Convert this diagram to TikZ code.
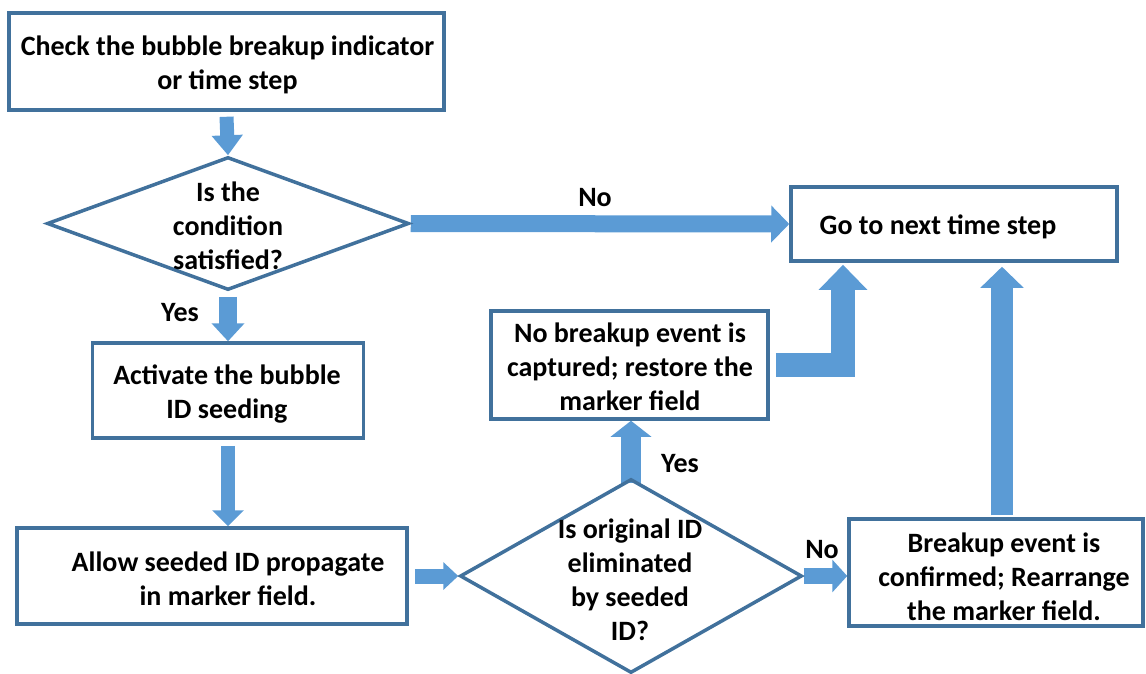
\documentclass[tikz,border=0pt]{standalone}
\usepackage{fontspec}
\setmainfont{Carlito}
\usetikzlibrary{shapes.geometric,arrows.meta,calc,backgrounds}
\definecolor{edgeblue}{HTML}{41719C}
\definecolor{arrowfill}{HTML}{5B9BD5}
\tikzset{
  box/.style={draw=edgeblue, line width=3.5pt, rectangle, inner sep=0pt},
  dia/.style={draw=edgeblue, line width=3.5pt, diamond, inner sep=0pt},
  txt/.style={align=center, font=\fontsize{28}{34}\selectfont\bfseries, inner sep=0pt},
  barrow/.style n args={3}{draw=arrowfill, line width=#1, line join=miter, -{Triangle[width=#2,length=#3]}},
}
\begin{document}
\begin{tikzpicture}[x=1pt,y=-1pt]
\useasboundingbox (0,0) rectangle (1146,673);
% boxes
\node[box, minimum width=435, minimum height=97] (b1) at (226.5,61.5) {};
\node[txt] at (227.5,65) {Check the bubble breakup indicator\\or time step};
\node[dia, minimum width=362, minimum height=133] (d1) at (228,223.5) {};
\node[txt] at (228,226) {Is the\\condition\\satisfied?};
\node[box, minimum width=326, minimum height=74] (go) at (954,224) {};
\node[txt] at (938,227) {Go to next time step};
\node[box, minimum width=271, minimum height=95] (act) at (228,390.5) {};
\node[txt] at (227,394) {Activate the bubble\\ID seeding};
\node[box, minimum width=390, minimum height=96] (allow) at (212,576) {};
\node[txt] at (228,579) {Allow seeded ID propagate\\in marker field.};
\node[dia, minimum width=342, minimum height=194] (d2) at (631,576) {};
\node[txt] at (630,580) {Is original ID\\eliminated\\by seeded\\ID?};
\node[box, minimum width=294, minimum height=107] (br) at (996,572.5) {};
\node[txt] at (1004,577) {Breakup event is\\confirmed; Rearrange\\the marker field.};
\node[box, minimum width=277, minimum height=108] (nb) at (629.5,365) {};
\node[txt] at (630,367) {No breakup event is\\captured; restore the\\marker field};
% labels
\node[txt] (lno1) at (595,198) {No};
\node[txt] (lyes1) at (180,313) {Yes};
\node[txt] (lyes2) at (680,464) {Yes};
\node[txt] (lno2) at (822,550) {No};
\coordinate (brtop) at ($(br.north)+(6,-2)$);
\begin{pgfonlayer}{background}
\draw[barrow={14}{30}{20}] ($(b1.south)+(0,5)$) -- (d1.north);
\draw[barrow={18}{32}{18}] ($(d1.south)+(0,5)$) -- (act.north);
\draw[barrow={14}{31}{16}] ($(act.south)+(0,6)$) -- (act.south |- allow.north);
\draw[barrow={15}{27}{15}] ($(allow.east)+(6,0)$) -- (d2.west);
\draw[barrow={16}{32}{15}] (d2.east) -- (d2.east -| br.west);
\draw[barrow={20}{40}{16}] ($(d2.north)+(0,6)$) -- (d2.north |- nb.south);
\draw[barrow={17}{36}{18}] (d1.east) -- (go.west);
\draw[barrow={24}{47}{25}] ($(nb.east)+(6,0)$) -| ($(go.south)+(-111,2)$);
\draw[barrow={22}{42}{21}] (brtop) -- ($(brtop |- go.south)+(0,4)$);
\end{pgfonlayer}
\end{tikzpicture}
\end{document}
